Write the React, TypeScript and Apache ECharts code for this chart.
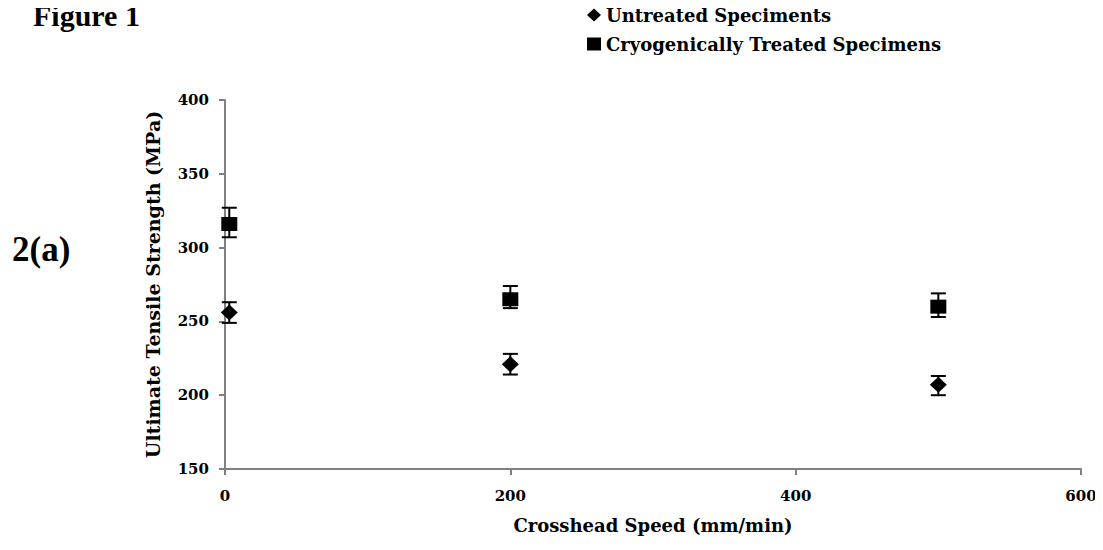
import React, { useEffect, useRef } from "react";
import * as echarts from "echarts";

const speeds = [3, 200, 500];
const untreated = [256, 221, 207];
const untreatedHigh = [263, 228, 213];
const untreatedLow = [249, 214, 200];
const treated = [316, 265, 260];
const treatedHigh = [327, 274, 269];
const treatedLow = [307, 259, 253];
const xTicks = [0, 200, 400, 600];
const yTicks = [150, 200, 250, 300, 350, 400];

const SERIF = "'Liberation Serif', 'Times New Roman', serif";
const WIDE = "'DejaVu Serif', 'Liberation Serif', serif";

export default function App() {
  const ref = useRef<HTMLDivElement>(null);
  useEffect(() => {
    if (!ref.current) return;
    const chart = echarts.init(ref.current, undefined, { renderer: "svg" });
    const errData: number[][] = [];
    speeds.forEach((s, i) => {
      errData.push([s, untreatedLow[i], untreatedHigh[i]]);
      errData.push([s, treatedLow[i], treatedHigh[i]]);
    });
    const axisLine = { lineStyle: { color: "#808080", width: 2 } };
    const labelStyle = { color: "#000", fontFamily: WIDE, fontWeight: "bold" as const, fontSize: 15 };
    chart.setOption({
      animation: false,
      backgroundColor: "#fff",
      graphic: [
        {
          type: "text",
          left: 33,
          top: 0,
          style: { text: "Figure 1", font: `bold 30px ${SERIF}`, fill: "#000" },
        },
        {
          type: "text",
          left: 12,
          top: 232,
          style: { text: "2(a)", font: `bold 35px ${SERIF}`, fill: "#000" },
        },
      ],
      legend: {
        data: [
          { name: "Untreated Speciments", icon: "diamond" },
          { name: "Cryogenically Treated Specimens", icon: "rect" },
        ],
        orient: "vertical",
        left: 582,
        top: 1,
        itemWidth: 14,
        itemHeight: 13,
        itemGap: 11,
        textStyle: { color: "#000", fontFamily: WIDE, fontWeight: "bold", fontSize: 18 },
      },
      grid: { left: 225, right: 22, top: 100, bottom: 81 },
      xAxis: {
        type: "value",
        min: xTicks[0],
        max: xTicks[xTicks.length - 1],
        interval: 200,
        name: "Crosshead Speed (mm/min)",
        nameLocation: "middle",
        nameGap: 47,
        nameTextStyle: { color: "#000", fontFamily: WIDE, fontWeight: "bold", fontSize: 18 },
        axisLine: { ...axisLine, onZero: false },
        axisTick: { show: true, length: 6, lineStyle: { color: "#808080", width: 2 } },
        axisLabel: { ...labelStyle, margin: 19 },
        splitLine: { show: false },
      },
      yAxis: {
        type: "value",
        min: yTicks[0],
        max: yTicks[yTicks.length - 1],
        interval: 50,
        name: "Ultimate Tensile Strength (MPa)",
        nameLocation: "middle",
        nameGap: 63,
        nameTextStyle: { color: "#000", fontFamily: WIDE, fontWeight: "bold", fontSize: 19 },
        axisLine: { show: true, ...axisLine },
        axisTick: { show: true, length: 6, lineStyle: { color: "#808080", width: 2 } },
        axisLabel: { ...labelStyle, margin: 16 },
        splitLine: { show: false },
      },
      series: [
        {
          type: "custom",
          name: "err",
          silent: true,
          z: 1,
          data: errData,
          renderItem: (params: any, api: any) => {
            const x = api.value(0);
            const lo = api.coord([x, api.value(1)]);
            const hi = api.coord([x, api.value(2)]);
            const half = 7.5;
            const style = { stroke: "#000", lineWidth: 2 };
            return {
              type: "group",
              children: [
                { type: "line", shape: { x1: lo[0], y1: lo[1], x2: hi[0], y2: hi[1] }, style },
                { type: "line", shape: { x1: lo[0] - half, y1: lo[1], x2: lo[0] + half, y2: lo[1] }, style },
                { type: "line", shape: { x1: hi[0] - half, y1: hi[1], x2: hi[0] + half, y2: hi[1] }, style },
              ],
            };
          },
        },
        {
          type: "scatter",
          name: "Untreated Speciments",
          symbol: "diamond",
          symbolSize: [17, 16],
          z: 3,
          itemStyle: { color: "#000", opacity: 1 },
          data: speeds.map((s, i) => [s, untreated[i]]),
        },
        {
          type: "scatter",
          name: "Cryogenically Treated Specimens",
          symbol: "rect",
          symbolSize: [16, 14],
          z: 3,
          itemStyle: { color: "#000", opacity: 1 },
          data: speeds.map((s, i) => [s, treated[i]]),
        },
      ],
    });
    return () => chart.dispose();
  }, []);
  return <div ref={ref} style={{ width: 1103, height: 550, margin: -8 }} />;
}
